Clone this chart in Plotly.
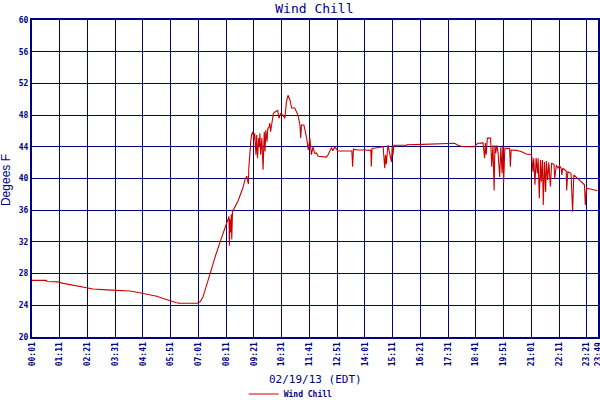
import plotly.graph_objects as go

DAY = "2013-02-19"
NAVY = "#000080"
RED = "#CC0000"

times = ["00:01","00:37","00:39","01:07","01:17","01:27","01:42","01:52","02:07","02:17","02:35","03:10","03:43","04:08","04:26","04:41","04:59","05:16","05:32","05:49","06:04","06:12","06:57","07:05","07:12","07:22","07:30","07:43","07:55","08:08","08:15","08:18","08:19","08:20","08:22","08:24","08:25","08:27","08:31","08:41","08:53","08:58","09:03","09:07","09:08","09:11","09:13","09:15","09:18","09:21","09:23","09:26","09:28","09:30","09:33","09:35","09:36","09:38","09:41","09:44","09:47","09:49","09:51","09:54","09:56","09:59","10:01","10:03","10:06","10:10","10:14","10:21","10:24","10:28","10:34","10:39","10:43","10:47","10:52","10:56","11:04","11:12","11:17","11:19","11:21","11:27","11:34","11:38","11:42","11:46","11:50","11:54","11:59","12:03","12:24","12:28","12:37","12:40","12:45","12:53","13:28","13:30","13:32","13:43","14:00","14:16","14:17","14:19","14:47","14:51","14:53","14:55","14:59","15:08","15:10","15:12","15:14","15:41","15:43","15:46","16:27","17:18","17:47","17:56","18:08","18:38","18:40","18:46","18:59","19:03","19:05","19:07","19:10","19:18","19:21","19:24","19:27","19:29","19:31","19:34","19:37","19:41","19:44","19:47","19:49","19:51","19:54","20:06","20:08","20:10","20:23","20:35","20:48","21:01","21:02","21:05","21:07","21:10","21:13","21:16","21:18","21:21","21:24","21:26","21:29","21:31","21:34","21:37","21:39","21:42","21:45","21:49","21:52","21:58","22:00","22:04","22:08","22:12","22:16","22:18","22:20","22:25","22:29","22:30","22:33","22:41","22:45","22:48","22:58","23:06","23:15","23:17","23:20","23:27","23:40","23:48"]

wind_chill = [27.15,27.15,27.0,26.95,26.8,26.7,26.6,26.45,26.3,26.2,26.05,25.95,25.85,25.8,25.65,25.5,25.3,25.15,24.85,24.55,24.35,24.25,24.25,24.45,25.0,26.6,28.0,30.1,31.9,33.7,34.6,35.2,31.5,34.9,33.2,35.5,32.3,35.9,36.2,37.2,38.8,39.8,40.3,39.3,41.3,43.8,44.7,45.5,45.9,44.9,45.7,43.0,45.5,42.55,45.1,44.0,45.7,43.0,45.1,41.1,45.9,43.4,46.1,44.65,46.3,46.5,47.0,45.9,47.2,48.2,48.4,48.6,47.6,48.2,48.0,47.6,49.7,50.5,49.9,48.9,48.9,48.0,46.75,45.1,46.75,46.75,45.1,43.6,45.1,43.0,44.0,43.2,43.2,42.8,42.7,43.0,43.9,43.5,44.0,43.47,43.47,41.5,43.7,43.6,43.6,43.55,41.5,43.8,44.0,41.3,43.0,41.8,44.2,42.1,44.2,43.0,44.2,44.2,44.05,44.25,44.3,44.45,44.45,44.2,44.0,44.0,44.2,44.45,44.5,42.55,44.5,43.0,45.1,45.1,41.5,44.2,38.5,44.2,43.2,44.2,43.2,40.2,44.0,40.65,44.2,39.5,43.8,43.8,41.5,43.6,43.55,43.4,43.1,43.0,42.75,40.85,42.55,39.2,42.6,40.65,42.55,37.5,42.33,39.6,42.33,36.65,42.1,38.3,42.2,39.8,42.0,39.0,41.9,41.8,40.0,41.7,41.3,41.6,41.3,40.45,41.3,41.1,40.95,38.5,40.85,40.65,35.8,40.45,40.0,39.6,39.2,36.65,38.75,38.7,38.5,38.45]

tick_labels = ["00:01","01:11","02:21","03:31","04:41","05:51","07:01","08:11","09:21","10:31","11:41","12:51","14:01","15:11","16:21","17:31","18:41","19:51","21:01","22:11","23:21","23:49"]
y_ticks = [20, 24, 28, 32, 36, 40, 44, 48, 52, 56, 60]

x = [f"{DAY} {t}" for t in times]
tickvals = [f"{DAY} {t}" for t in tick_labels]

fig = go.Figure()
fig.add_trace(go.Scatter(x=x, y=wind_chill, mode="lines", name="Wind Chill",
                         line=dict(color=RED, width=1.1)))

mono = "DejaVu Sans Mono"
fig.update_layout(
    width=600, height=400,
    margin=dict(l=32, r=2, t=20, b=63),
    paper_bgcolor="white", plot_bgcolor="white",
    title=dict(text="Wind Chill", x=0.524, xanchor="center", y=0.978, yanchor="middle",
               yref="container", font=dict(family=mono, size=13, color=NAVY)),
    showlegend=True,
    legend=dict(orientation="h", x=0.374, xanchor="left", yref="container", y=0.015, yanchor="middle",
                font=dict(family=mono, size=8, color=NAVY, weight="bold"),
                bgcolor="rgba(0,0,0,0)", itemwidth=30),
    xaxis=dict(type="date", range=[f"{DAY} 00:01", f"{DAY} 23:49:05"],
               tickvals=tickvals, ticktext=tick_labels, tickangle=-90,
               tickfont=dict(family=mono, size=8, color=NAVY, weight="bold"),
               ticklabeloverflow="allow",
               showgrid=True, gridcolor=NAVY, gridwidth=1,
               showline=True, linecolor=NAVY, linewidth=2, mirror=True,
               ticks="", zeroline=False, automargin=False),
    yaxis=dict(range=[20, 60], tickvals=y_ticks,
               tickfont=dict(family=mono, size=8, color=NAVY, weight="bold"),
               showgrid=True, gridcolor=NAVY, gridwidth=1,
               showline=True, linecolor=NAVY, linewidth=2, mirror=True,
               ticks="", zeroline=False, automargin=False),
    annotations=[
        dict(text="Degees F", xref="paper", yref="paper", x=-0.046, y=0.495,
             xanchor="center", yanchor="middle", textangle=-90, showarrow=False,
             font=dict(family="Liberation Sans", size=12, color=NAVY)),
        dict(text="02/19/13 (EDT)", xref="paper", yref="paper", x=0.5, y=-0.1325,
             xanchor="center", yanchor="middle", showarrow=False,
             font=dict(family=mono, size=11, color=NAVY)),
    ],
)

fig.write_html(
    "out.html",
    config={"displayModeBar": False},
    post_script="document.body.style.margin='0px';",
)
